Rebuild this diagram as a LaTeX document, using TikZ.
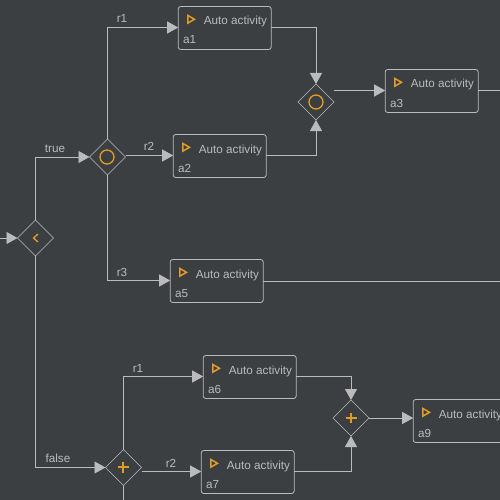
\documentclass[tikz,border=0pt]{standalone}
\usepackage{fontspec}
\setmainfont{Liberation Sans}
\usetikzlibrary{arrows.meta,shapes.geometric,calc}
\definecolor{bgc}{HTML}{3C3F41}
\definecolor{linec}{HTML}{BBBBBB}
\definecolor{orangec}{HTML}{E29B26}
\tikzset{
  gate/.style={draw=linec,line width=0.6pt,shape=diamond,minimum width=36pt,minimum height=36pt,inner sep=0pt,aspect=1,outer sep=0pt},
  actbox/.style={draw=linec,line width=0.8pt,rounded corners=2.5pt,minimum width=93pt,minimum height=43pt,inner sep=0pt,outer sep=0pt},
  flow/.style={draw=linec,line width=0.8pt,-{Triangle[length=11pt,width=12pt,fill=linec,color=linec]}},
  plainflow/.style={draw=linec,line width=0.8pt},
  lbl/.style={text=linec,font=\fontsize{11.7}{13}\selectfont,inner sep=0pt,anchor=base},
  actmark/.style={draw=orangec,line width=1.5pt},
  gatemark/.style={draw=orangec,line width=1.3pt},
}
\newcommand{\activity}[4]{% name, left x, top y, id
  \node[actbox,anchor=north west] (#1) at (#2,#3) {};
  \node[lbl,anchor=base west] (#1t) at ($(#1.north west)+(25.5,18.5)$) {Auto activity};
  \node[lbl,anchor=base west] (#1i) at ($(#1.north west)+(4.8,37.5)$) {#4};
  \draw[actmark,line join=miter] ($(#1.north west)+(9.7,9)$) -- ($(#1.north west)+(16.3,12.8)$) -- ($(#1.north west)+(9.7,16.6)$) -- cycle;
}
\begin{document}
\begin{tikzpicture}[x=1pt,y=-1pt]
\useasboundingbox (0,0) rectangle (500,500);
\fill[bgc] (0,0) rectangle (500,500);
\clip (0,0) rectangle (500,500);
\node[gate] (g0) at (35.5,238) {};
\node[gate] (g1) at (107.5,157) {};
\node[gate] (g2) at (316,102) {};
\node[gate] (g3) at (123.5,467.5) {};
\node[gate] (g4) at (351,418) {};
\draw[gatemark] (38,234) -- (33.5,238) -- (38,242);
\draw[gatemark] (107,157) circle (7);
\draw[gatemark] (316,102) circle (7);
\draw[gatemark,line width=1.7pt] (118,467) -- (128.5,467) (123,462) -- (123,472.5);
\draw[gatemark,line width=1.7pt] (345.5,418) -- (356.5,418) (351,413) -- (351,423);
\activity{a1}{178.2}{6.5}{a1}
\activity{a2}{173.2}{134.5}{a2}
\activity{a3}{385.2}{69.5}{a3}
\activity{a5}{170.2}{259.5}{a5}
\activity{a6}{203.2}{355.5}{a6}
\activity{a7}{201.2}{450.5}{a7}
\activity{a9}{413.2}{399.5}{a9}
\coordinate (in0) at (0,238);
\coordinate (out3) at (500,90.5);
\coordinate (out5) at (500,281.5);
\coordinate (out3b) at (123.5,500);
\draw[flow] (in0) -- (g0.west);
\draw[flow] (g0.north) |- (g1.west);
\draw[flow] (g0.south) |- (g3.west);
\draw[flow] (g1.north) |- ([yshift=.5pt]a1.west);
\draw[flow] (g1.east |- a2.west) ++(0,-.5) -- ([yshift=.5pt]a2.west);
\draw[flow] (g1.south) |- ([yshift=.5pt]a5.west);
\draw[flow] ([yshift=.5pt]a1.east) -| (g2.north);
\draw[flow] ([yshift=.5pt]a2.east) -| (g2.south);
\draw[flow] (g2.east |- out3) -- (a3.west |- out3);
\draw[plainflow] (a3.east |- out3) -- (out3);
\draw[plainflow] (a5.east |- out5) -- (out5);
\draw[flow] (g3.north) |- ([yshift=.5pt]a6.west);
\draw[flow] (g3.east |- a7.west) ++(0,-.5) -- ([yshift=.5pt]a7.west);
\draw[plainflow] (g3.south) -- (out3b);
\draw[flow] ([yshift=.5pt]a6.east) -| (g4.north);
\draw[flow] ([yshift=.5pt]a7.east) -| (g4.south);
\draw[flow] (g4.east) -- (g4.east -| a9.west);
\node[lbl] (ltrue) at (55,152) {true};
\node[lbl] (lfalse) at (58,462) {false};
\node[lbl] (lr1) at (122,23) {r1};
\node[lbl] (lr2) at (149,150.5) {r2};
\node[lbl] (lr3) at (122,276) {r3};
\node[lbl] (lr1b) at (138,372) {r1};
\node[lbl] (lr2b) at (171,467) {r2};
\end{tikzpicture}
\end{document}
